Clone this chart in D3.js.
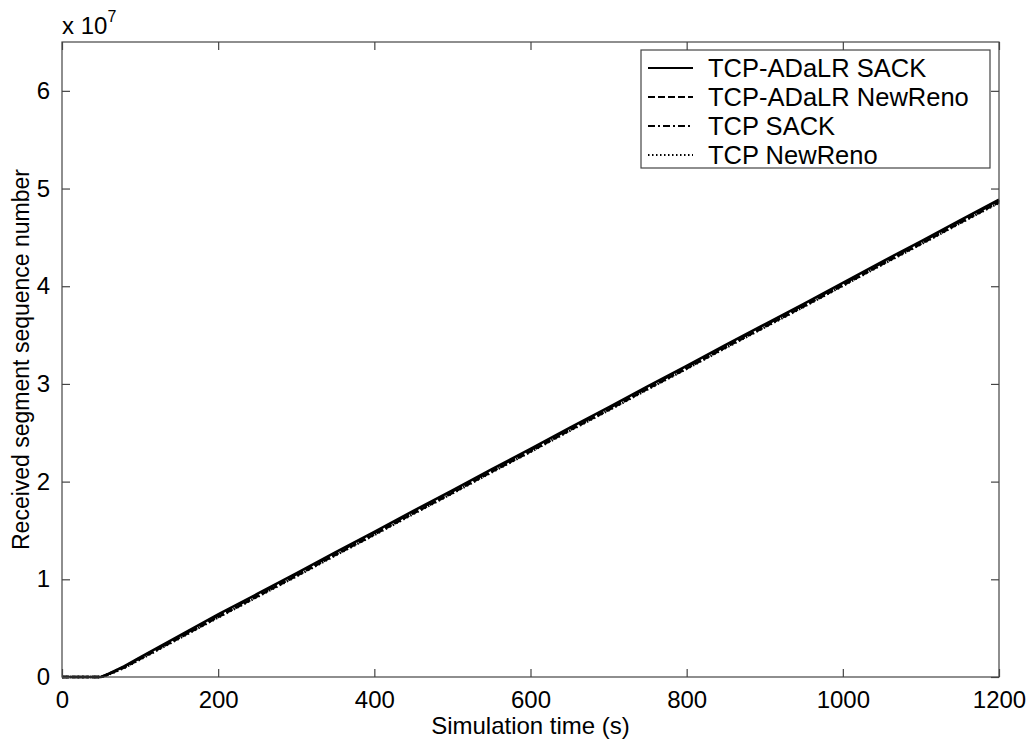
<!DOCTYPE html>
<html><head><meta charset="utf-8">
<script src="https://cdn.jsdelivr.net/npm/d3@7"></script>
<style>body{margin:0;background:#fff}svg{display:block}text{font-family:"Liberation Sans",Arial,sans-serif;fill:#000}</style>
</head><body>
<svg id="c" width="1034" height="742"></svg>
<script>
const times = [0,25,50,60,80,100,150,200,250,300,350,400,450,500,550,600,650,700,750,800,850,900,950,1000,1050,1100,1150,1200];
const adalrSack =    [0,0,0,0.035,0.11,0.20,0.42,0.64,0.85,1.06,1.275,1.485,1.70,1.91,2.125,2.335,2.55,2.76,2.975,3.185,3.40,3.61,3.82,4.035,4.25,4.46,4.675,4.885];
const adalrNewReno = [0,0,0,0.028,0.10,0.185,0.40,0.615,0.825,1.035,1.25,1.46,1.675,1.885,2.10,2.31,2.525,2.735,2.95,3.16,3.375,3.585,3.795,4.01,4.225,4.435,4.65,4.86];
const tcpSack =      [0,0,0,0.032,0.105,0.195,0.41,0.63,0.84,1.05,1.265,1.475,1.69,1.90,2.115,2.325,2.54,2.75,2.965,3.175,3.39,3.60,3.81,4.025,4.24,4.45,4.665,4.875];
const tcpNewReno =   [0,0,0,0.026,0.095,0.18,0.395,0.61,0.82,1.03,1.245,1.455,1.67,1.88,2.095,2.305,2.52,2.73,2.945,3.155,3.37,3.58,3.79,4.005,4.22,4.43,4.645,4.855];
const seriesNames = ["TCP-ADaLR SACK","TCP-ADaLR NewReno","TCP SACK","TCP NewReno"];
const xTicks = [0,200,400,600,800,1000,1200];
const yTicks = [0,1,2,3,4,5,6];

const series = [adalrSack, adalrNewReno, tcpSack, tcpNewReno];
const dashes = [null, "7,3", "7,3,2,3", "1.5,2.5"];
const svg = d3.select("#c");
const L=62,R=999,T=42,B=677;
const x = d3.scaleLinear().domain([0,1200]).range([L,R]);
const y = d3.scaleLinear().domain([0,6.5]).range([B,T]);

const line = d3.line().x((d,i)=>x(times[i])).y(d=>y(d));
series.forEach((s,k)=>{
  svg.append("path").datum(s).attr("d",line).attr("fill","none")
    .attr("stroke","#000").attr("stroke-width",2.6)
    .attr("stroke-dasharray",dashes[k]);
});

// frame
svg.append("rect").attr("x",L).attr("y",T).attr("width",R-L).attr("height",B-T)
  .attr("fill","none").attr("stroke","#444").attr("stroke-width",1.2);

const tl=8;
const gx = svg.append("g").attr("transform",`translate(0,${B})`)
  .call(d3.axisBottom(x).tickValues(xTicks).tickSize(-tl).tickPadding(tl+5).tickFormat(d3.format("d")));
const gxt = svg.append("g").attr("transform",`translate(0,${T})`)
  .call(d3.axisTop(x).tickValues(xTicks).tickSize(-tl).tickFormat(""));
const gy = svg.append("g").attr("transform",`translate(${L},0)`)
  .call(d3.axisLeft(y).tickValues(yTicks).tickSize(-tl).tickPadding(tl+4).tickFormat(d3.format("d")));
const gyr = svg.append("g").attr("transform",`translate(${R},0)`)
  .call(d3.axisRight(y).tickValues(yTicks).tickSize(-tl).tickFormat(""));
[gx,gxt,gy,gyr].forEach(g=>{
  g.select(".domain").remove();
  g.selectAll(".tick line").attr("stroke","#444").attr("stroke-width",1.2);
  g.selectAll("text").attr("font-size",24).attr("font-family","Liberation Sans, Arial, sans-serif").attr("fill","#000");
});
gx.selectAll("text").attr("dy","0.75em");

svg.append("text").attr("x",(L+R)/2).attr("y",734).attr("text-anchor","middle")
  .attr("font-size",24).text("Simulation time (s)");
svg.append("text").attr("transform",`translate(29,${(T+B)/2}) rotate(-90)`).attr("text-anchor","middle")
  .attr("font-size",23).text("Received segment sequence number");

const ex = svg.append("text").attr("x",62).attr("y",34).attr("font-size",24);
ex.append("tspan").text("x 10");
ex.append("tspan").attr("font-size",16).attr("dy",-12).text("7");

// legend
const lg = svg.append("g");
lg.append("rect").attr("x",641).attr("y",50).attr("width",349).attr("height",118)
  .attr("fill","#fff").attr("stroke","#444").attr("stroke-width",1.2);
seriesNames.forEach((n,k)=>{
  const cy = 68 + k*29;
  lg.append("line").attr("x1",648).attr("x2",693).attr("y1",cy).attr("y2",cy)
    .attr("stroke","#000").attr("stroke-width",2.2).attr("stroke-dasharray",dashes[k]);
  lg.append("text").attr("x",708).attr("y",cy).attr("dy","0.36em").attr("font-size",25.5).text(n);
});
</script>
</body></html>
